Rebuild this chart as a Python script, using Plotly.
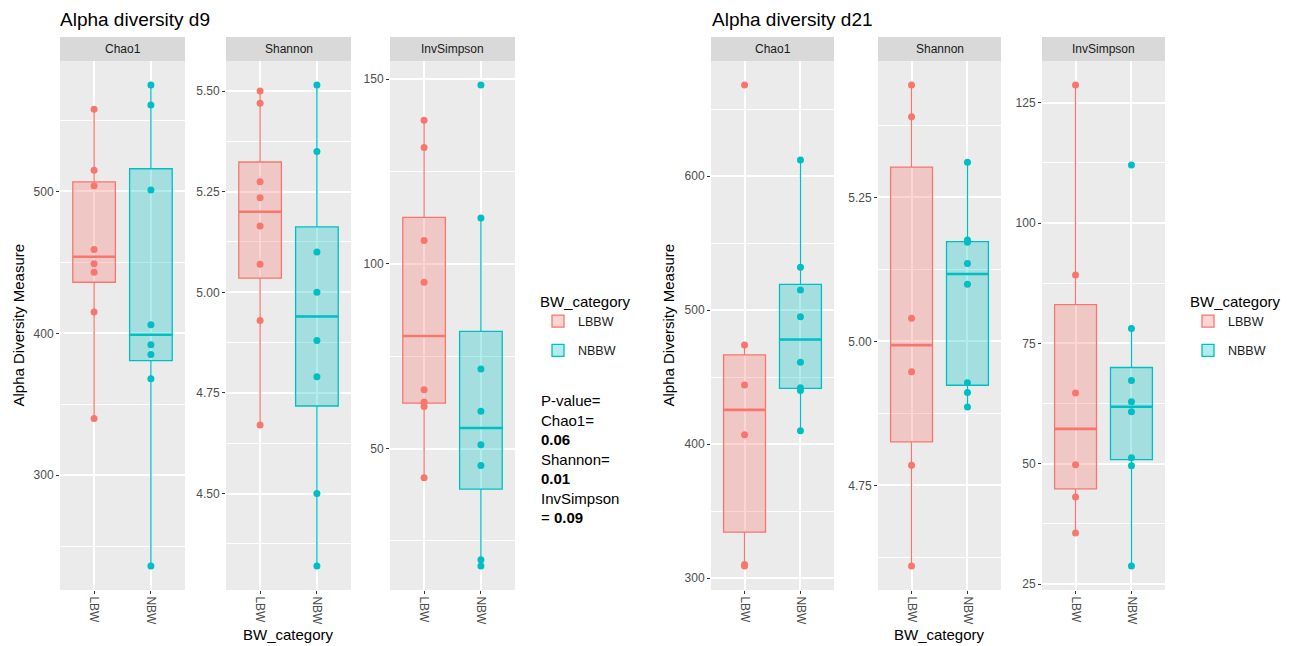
import numpy as np
import plotly.graph_objects as go

# ---------------- data ----------------
groups = ["LBW", "NBW"]
legend_names = ["LBBW", "NBBW"]
measures = ["Chao1", "Shannon", "InvSimpson"]

# day 9
chao1_d9_lbw = [340, 415, 443, 449, 459, 504, 515, 558]
chao1_d9_nbw = [236, 368, 385, 392, 406, 501, 561, 575]
shannon_d9_lbw = [4.67, 4.93, 5.07, 5.165, 5.235, 5.275, 5.47, 5.50]
shannon_d9_nbw = [4.32, 4.50, 4.79, 4.88, 5.00, 5.10, 5.35, 5.515]
invs_d9_lbw = [42.1, 61.4, 62.6, 65.9, 95.0, 106.3, 131.5, 138.9]
invs_d9_nbw = [18.2, 19.9, 45.4, 51.0, 60.1, 71.5, 112.4, 148.4]

# day 21
chao1_d21_lbw = [309, 310, 407, 444, 474, 668]
chao1_d21_nbw = [410, 440, 442, 461, 495, 515, 532, 612]
shannon_d21_lbw = [4.61, 4.785, 4.947, 5.04, 5.39, 5.445]
shannon_d21_nbw = [4.886, 4.911, 4.928, 5.099, 5.135, 5.172, 5.176, 5.311]
invs_d21_lbw = [35.6, 43.1, 49.8, 64.7, 89.2, 128.7]
invs_d21_nbw = [28.75, 49.6, 51.25, 60.8, 62.9, 67.3, 78.1, 112.1]

# y tick labels
ticks_chao1_d9 = [300, 400, 500]
ticks_shannon_d9 = [4.50, 4.75, 5.00, 5.25, 5.50]
ticks_invs_d9 = [50, 100, 150]
ticks_chao1_d21 = [300, 400, 500, 600]
ticks_shannon_d21 = [4.75, 5.00, 5.25]
ticks_invs_d21 = [25, 50, 75, 100, 125]

titles = ["Alpha diversity d9", "Alpha diversity d21"]
pvalue_text = ("P-value=<br>Chao1=<br><b>0.06</b><br>Shannon=<br><b>0.01</b>"
               "<br>InvSimpson<br>= <b>0.09</b>")

# ---------------- layout helpers ----------------
PAGE_W, PAGE_H = 1298, 646
OFF = 8  # default body margin of the html page
W, H = PAGE_W - OFF, PAGE_H - OFF
FONT = "Liberation Sans, Arial, Helvetica, sans-serif"
COLORS = ["#F8766D", "#00BFC4"]
FILLS = ["rgba(248,118,109,0.3)", "rgba(0,191,196,0.3)"]
PLOT_TOP, PLOT_BOT, STRIP_TOP = 61, 590, 37


def fx(px):
    return (px - OFF) / W


def fy(py):
    return 1 - (py - OFF) / H


charts = [
    dict(title=titles[0], title_x=58, ytitle_x=18, xtitle_x=288,
         legend_x=538, legend="legend",
         panels=[(60, 185), (226, 351), (390, 515)],
         data=[(chao1_d9_lbw, chao1_d9_nbw, ticks_chao1_d9, "{:.0f}"),
               (shannon_d9_lbw, shannon_d9_nbw, ticks_shannon_d9, "{:.2f}"),
               (invs_d9_lbw, invs_d9_nbw, ticks_invs_d9, "{:.0f}")]),
    dict(title=titles[1], title_x=710, ytitle_x=668, xtitle_x=939,
         legend_x=1188, legend="legend2",
         panels=[(711, 834), (878, 1001), (1042, 1165)],
         data=[(chao1_d21_lbw, chao1_d21_nbw, ticks_chao1_d21, "{:.0f}"),
               (shannon_d21_lbw, shannon_d21_nbw, ticks_shannon_d21, "{:.2f}"),
               (invs_d21_lbw, invs_d21_nbw, ticks_invs_d21, "{:.0f}")]),
]


def box_stats(vals):
    v = np.sort(np.asarray(vals, float))
    q1, med, q3 = np.percentile(v, [25, 50, 75])
    iqr = q3 - q1
    lo = v[v >= q1 - 1.5 * iqr].min()
    hi = v[v <= q3 + 1.5 * iqr].max()
    return q1, med, q3, lo, hi


fig = go.Figure()
layout = dict(
    width=W, height=H, margin=dict(l=0, r=0, t=0, b=0),
    paper_bgcolor="white", plot_bgcolor="#EBEBEB",
    font=dict(family=FONT, color="#1A1A1A"),
    shapes=[], annotations=[],
)

ax = 0
for ci, ch in enumerate(charts):
    for pi, ((x0, x1), (lbw, nbw, ticks, fmt)) in enumerate(zip(ch["panels"], ch["data"])):
        ax += 1
        xa = "x" if ax == 1 else f"x{ax}"
        ya = "y" if ax == 1 else f"y{ax}"
        allv = np.concatenate([lbw, nbw])
        span = allv.max() - allv.min()
        yr = [allv.min() - 0.05 * span, allv.max() + 0.05 * span]
        step = ticks[1] - ticks[0]
        minor = [t + step / 2 for t in [ticks[0] - step] + list(ticks)]
        minor = [m for m in minor if yr[0] <= m <= yr[1]]

        for gi, vals in enumerate([lbw, nbw]):
            xpos = gi + 1
            q1, med, q3, lo, hi = box_stats(vals)
            fig.add_trace(go.Box(
                x=[xpos], q1=[q1], median=[med], q3=[q3],
                lowerfence=[lo], upperfence=[hi],
                width=0.75, whiskerwidth=0, boxpoints=False,
                fillcolor=FILLS[gi], line=dict(color=COLORS[gi], width=1.3),
                name=legend_names[gi], legendgroup=f"{ci}{gi}",
                legend=ch["legend"], showlegend=(pi == 0),
                xaxis=xa, yaxis=ya, hoverinfo="skip",
            ))
            # thicker median line (ggplot fatten)
            fig.add_trace(go.Scatter(
                x=[xpos - 0.375, xpos + 0.375], y=[med, med], mode="lines",
                line=dict(color=COLORS[gi], width=2.6), showlegend=False,
                xaxis=xa, yaxis=ya, hoverinfo="skip",
            ))
            fig.add_trace(go.Scatter(
                x=[xpos] * len(vals), y=vals, mode="markers",
                marker=dict(color=COLORS[gi], size=7), showlegend=False,
                xaxis=xa, yaxis=ya, hoverinfo="skip",
            ))

        xkey = "xaxis" if ax == 1 else f"xaxis{ax}"
        ykey = "yaxis" if ax == 1 else f"yaxis{ax}"
        layout[xkey] = dict(
            domain=[fx(x0), fx(x1)], anchor=ya, range=[0.4, 2.6],
            tickmode="array", tickvals=[1, 2], ticktext=groups, tickangle=90,
            showgrid=True, gridcolor="white", gridwidth=1.6, zeroline=False,
            ticks="outside", ticklen=3, tickcolor="#333333", tickwidth=1,
            tickfont=dict(size=12, color="#4D4D4D", family=FONT),
            showline=False, fixedrange=True,
        )
        layout[ykey] = dict(
            domain=[fy(PLOT_BOT), fy(PLOT_TOP)], anchor=xa, range=yr,
            tickmode="array", tickvals=ticks, ticktext=[fmt.format(t) for t in ticks],
            showgrid=True, gridcolor="white", gridwidth=1.6, zeroline=False,
            minor=dict(tickmode="array", tickvals=minor, showgrid=True,
                       gridcolor="white", gridwidth=0.8, ticks=""),
            ticks="outside", ticklen=3, tickcolor="#333333", tickwidth=1,
            tickfont=dict(size=12, color="#4D4D4D", family=FONT),
            showline=False, fixedrange=True,
        )
        # facet strip
        layout["shapes"].append(dict(
            type="rect", xref="paper", yref="paper",
            x0=fx(x0), x1=fx(x1), y0=fy(PLOT_TOP), y1=fy(STRIP_TOP),
            fillcolor="#D9D9D9", line=dict(width=0), layer="below"))
        layout["annotations"].append(dict(
            text=measures[pi], xref="paper", yref="paper",
            x=fx((x0 + x1) / 2), y=fy((STRIP_TOP + PLOT_TOP) / 2),
            showarrow=False, xanchor="center", yanchor="middle",
            font=dict(size=12, color="#1A1A1A", family=FONT)))

    # chart title
    layout["annotations"].append(dict(
        text=ch["title"], xref="paper", yref="paper",
        x=fx(ch["title_x"]), y=fy(20), showarrow=False,
        xanchor="left", yanchor="middle",
        font=dict(size=19, color="black", family=FONT)))
    # y-axis title
    layout["annotations"].append(dict(
        text="Alpha Diversity Measure", xref="paper", yref="paper",
        x=fx(ch["ytitle_x"]), y=fy((PLOT_TOP + PLOT_BOT) / 2), showarrow=False,
        textangle=-90, xanchor="center", yanchor="middle",
        font=dict(size=15, color="black", family=FONT)))
    # x-axis title
    layout["annotations"].append(dict(
        text="BW_category", xref="paper", yref="paper",
        x=fx(ch["xtitle_x"]), y=fy(634), showarrow=False,
        xanchor="center", yanchor="middle",
        font=dict(size=15, color="black", family=FONT)))
    # legend
    layout[ch["legend"]] = dict(
        x=fx(ch["legend_x"]), y=fy(287), xanchor="left", yanchor="top",
        title=dict(text="BW_category", font=dict(size=15, color="black", family=FONT)),
        font=dict(size=12.5, color="#1A1A1A", family=FONT),
        bgcolor="rgba(0,0,0,0)", tracegroupgap=10, itemwidth=30,
    )

# P-value annotation
layout["annotations"].append(dict(
    text=pvalue_text, xref="paper", yref="paper",
    x=fx(539), y=fy(390), showarrow=False, xanchor="left", yanchor="top",
    align="left", font=dict(size=15, color="black", family=FONT)))

fig.update_layout(**layout)
fig.write_html("out.html")
